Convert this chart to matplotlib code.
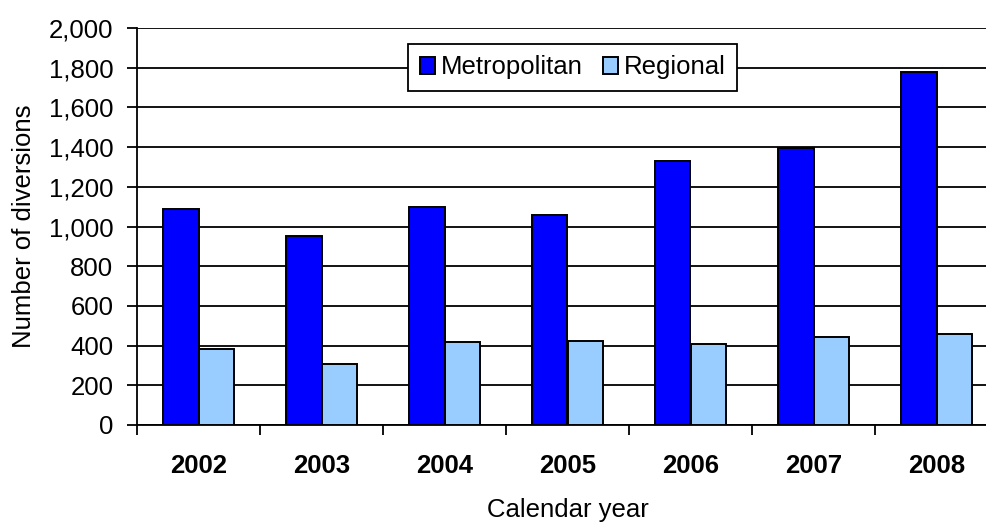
import numpy as np
import matplotlib.pyplot as plt
from matplotlib.ticker import FuncFormatter

plt.rcParams["font.family"] = ["Liberation Sans", "DejaVu Sans"]

years = ["2002", "2003", "2004", "2005", "2006", "2007", "2008"]
metropolitan = [1088, 950, 1100, 1058, 1332, 1394, 1777]
regional = [383, 306, 417, 423, 408, 445, 457]

fs = 18.5

fig = plt.figure(figsize=(9.86, 5.22), dpi=100)
# right edge runs past the figure, as in the reference
ax = fig.add_axes([137 / 986, 1 - 425 / 522, 861 / 986, 397 / 522])

x = np.arange(len(years))
width = 0.2857
ax.bar(x - width / 2, metropolitan, width, color="#0000FF", edgecolor="black",
       linewidth=1.4, label="Metropolitan", zorder=3)
ax.bar(x + width / 2, regional, width, color="#99CCFF", edgecolor="black",
       linewidth=1.4, label="Regional", zorder=3)

ax.set_xlim(-0.5, len(years) - 0.5)
ax.set_ylim(0, 2000)
ax.set_yticks(np.arange(0, 2001, 200))
ax.yaxis.set_major_formatter(FuncFormatter(lambda v, p: f"{int(v):,}"))
ax.yaxis.grid(True, color="black", linewidth=1.3, zorder=0)
ax.set_axisbelow(True)

ax.set_xticks(x)
ax.set_xticklabels(years, fontsize=fs, fontweight="bold")
ax.tick_params(axis="x", length=0, pad=21)
ax.set_xticks(np.arange(-0.5, len(years)), minor=True)
ax.tick_params(axis="x", which="minor", length=7, width=1.3, direction="out")
ax.tick_params(axis="y", length=7, width=1.3, labelsize=fs, pad=10)

for side in ["top", "right"]:
    ax.spines[side].set_visible(False)
ax.spines["left"].set_linewidth(1.3)
ax.spines["bottom"].set_linewidth(1.3)

ax.set_ylabel("Number of diversions", fontsize=fs, labelpad=9)
ax.set_xlabel("Calendar year", fontsize=fs, labelpad=14)

leg = ax.legend(loc="upper center", bbox_to_anchor=(0.506, 0.96), ncol=2,
                fontsize=fs, frameon=True, fancybox=False, edgecolor="black",
                handlelength=0.6, handleheight=0.6, handletextpad=0.2,
                columnspacing=0.8, borderpad=0.45, borderaxespad=0,
                framealpha=1)
leg.get_frame().set_linewidth(1.3)

fig.savefig("out.png", dpi=100)
